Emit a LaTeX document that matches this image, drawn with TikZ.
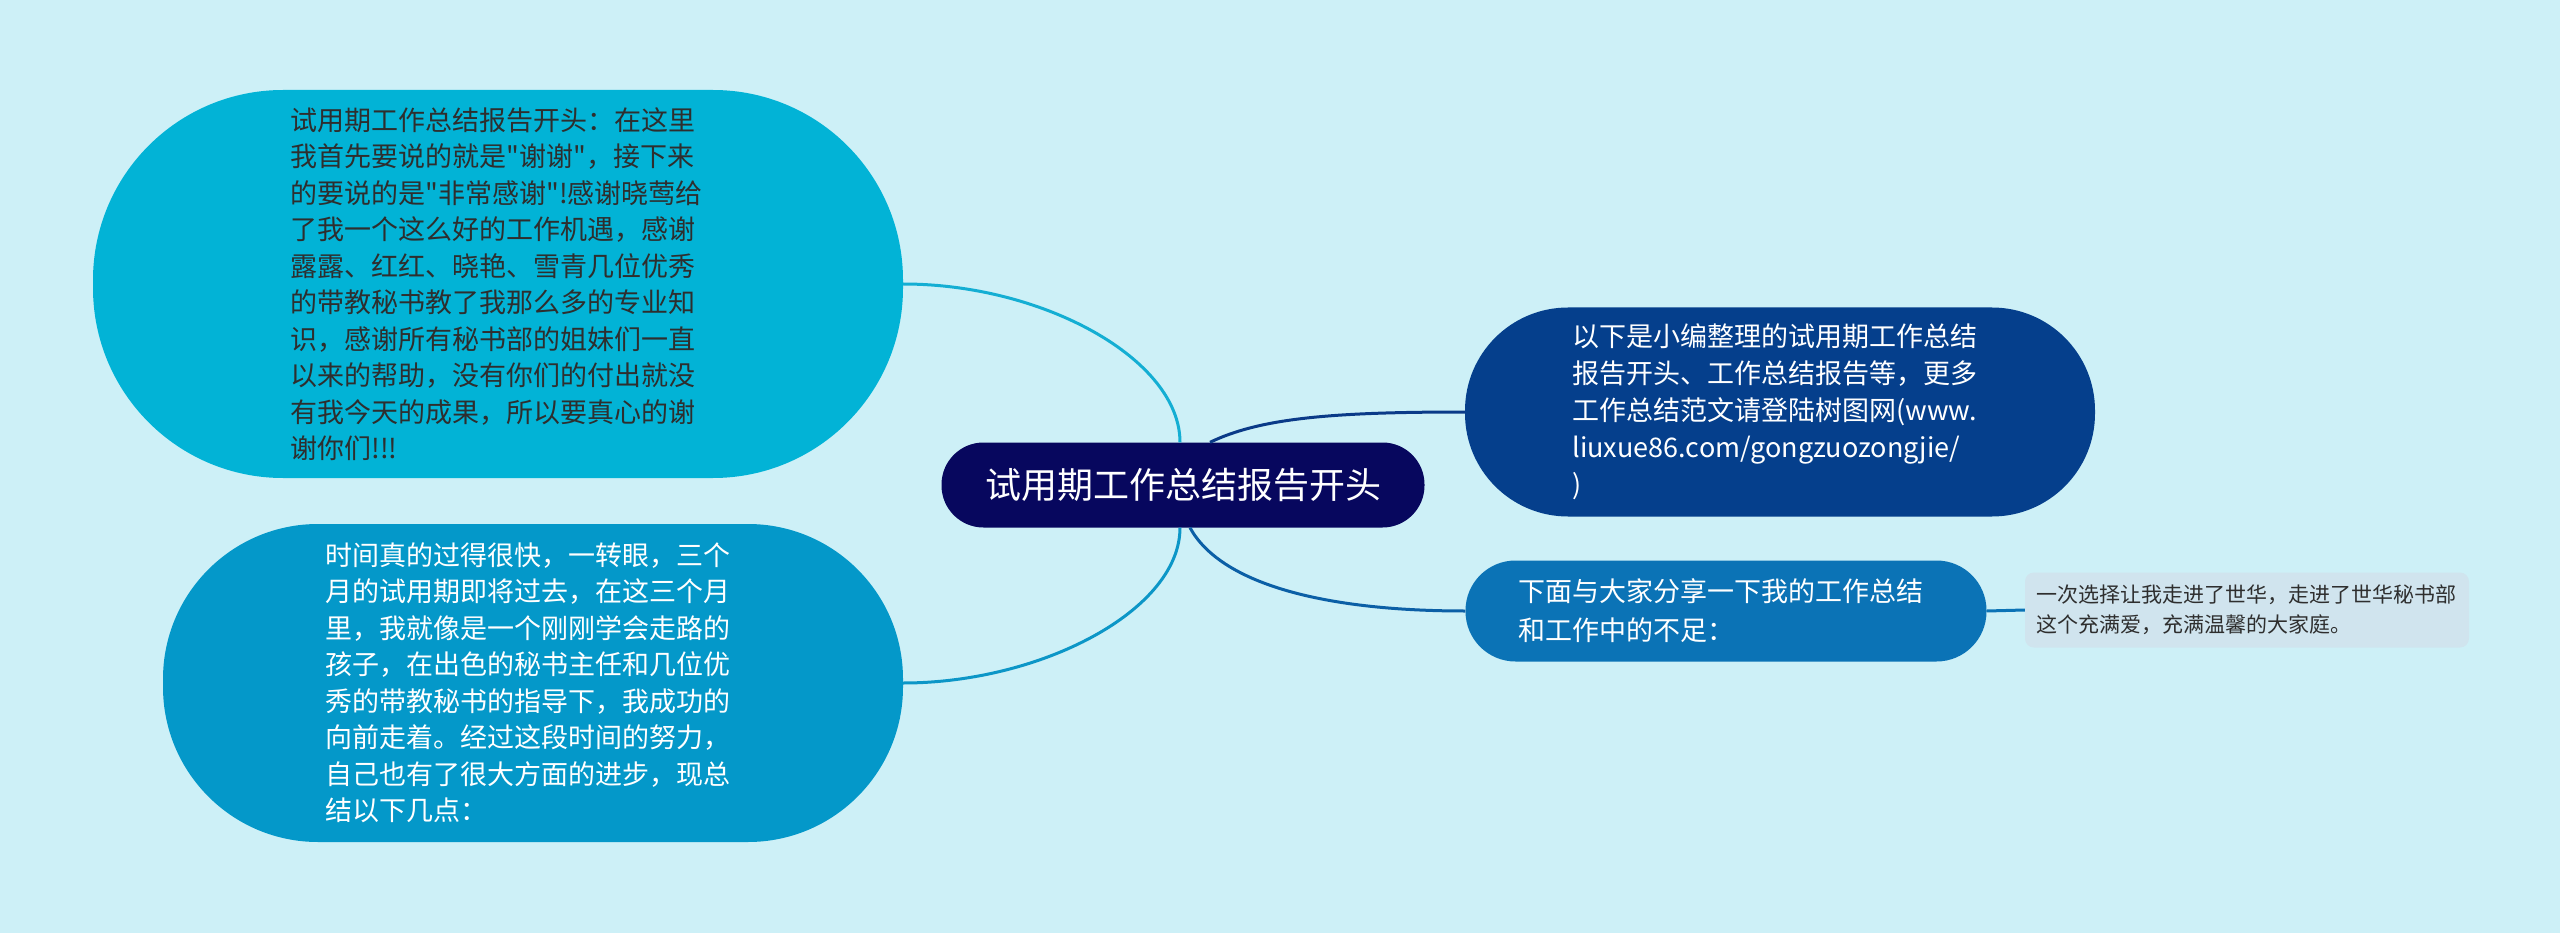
\documentclass[tikz,border=0pt]{standalone}
\usepackage{fontspec}
\setmainfont{Noto Sans CJK SC}[Ligatures=TeXOff]
\usetikzlibrary{calc}
\definecolor{bgc}{HTML}{CDF0F7}
\definecolor{cmain}{HTML}{07075E}
\definecolor{ctl}{HTML}{02B3D6}
\definecolor{cbl}{HTML}{0498C9}
\definecolor{ctr}{HTML}{053F8C}
\definecolor{cbr}{HTML}{0B73B6}
\definecolor{cleaf}{HTML}{D0E4EE}
\definecolor{ltl}{HTML}{14AED3}
\definecolor{lbl}{HTML}{0C96C7}
\definecolor{ltr}{HTML}{0A3A88}
\definecolor{lbr}{HTML}{0B5FA6}
\definecolor{darktext}{HTML}{2E2E2E}
\tikzset{
  bubble/.style={rectangle, inner sep=0pt, align=left, text width=415pt,
    font=\fontsize{27pt}{36.5pt}\selectfont},
  link/.style={line width=3pt}
}
\begin{document}
\begin{tikzpicture}[x=1pt,y=-1pt]
\fill[bgc] (0,0) rectangle (2560,933);
\useasboundingbox (0,0) rectangle (2560,933);

\node[rectangle, fill=cmain, text=white, rounded corners=42pt, minimum width=483pt, minimum height=85pt, inner sep=0pt, font=\fontsize{36pt}{40pt}\selectfont] (c) at (1183,485) {试用期工作总结报告开头};

\node[bubble, fill=ctl, text=darktext, rounded corners=190pt, minimum width=810pt, minimum height=388pt] (tl) at (498,284) {试用期工作总结报告开头：在这里\\
我首先要说的就是"谢谢"，接下来\\
的要说的是"非常感谢"!感谢晓莺给\\
了我一个这么好的工作机遇，感谢\\
露露、红红、晓艳、雪青几位优秀\\
的带教秘书教了我那么多的专业知\\
识，感谢所有秘书部的姐妹们一直\\
以来的帮助，没有你们的付出就没\\
有我今天的成果，所以要真心的谢\\
谢你们!!!};

\node[bubble, fill=cbl, text=white, rounded corners=155pt, minimum width=740pt, minimum height=318pt] (bl) at (533,683) {时间真的过得很快，一转眼，三个\\
月的试用期即将过去，在这三个月\\
里，我就像是一个刚刚学会走路的\\
孩子，在出色的秘书主任和几位优\\
秀的带教秘书的指导下，我成功的\\
向前走着。经过这段时间的努力，\\
自己也有了很大方面的进步，现总\\
结以下几点：};

\node[bubble, fill=ctr, text=white, rounded corners=103pt, minimum width=630pt, minimum height=209pt, font=\fontsize{27pt}{37pt}\selectfont] (tr) at (1780,412) {以下是小编整理的试用期工作总结\\
报告开头、工作总结报告等，更多\\
工作总结范文请登陆树图网(www.\\
liuxue86.com/gongzuozongjie/\\
)};

\node[bubble, fill=cbr, text=white, rounded corners=50pt, minimum width=521pt, minimum height=101pt, font=\fontsize{27pt}{39pt}\selectfont] (br) at (1726,611) {下面与大家分享一下我的工作总结\\
和工作中的不足：};

\node[rectangle, fill=cleaf, text=darktext, rounded corners=9pt, minimum width=444pt, minimum height=75pt, inner sep=0pt, align=left, text width=422pt, font=\fontsize{21pt}{30pt}\selectfont] (leaf) at (2247,610) {一次选择让我走进了世华，走进了世华秘书部\\
这个充满爱，充满温馨的大家庭。};

\draw[link, ltl] (tl.east) .. controls ($(tl.east)+(140,0)$) and ($([xshift=-3pt]c.north)+(0,-83)$) .. ([xshift=-3pt]c.north);
\draw[link, lbl] ([xshift=-3pt]c.south) .. controls ($([xshift=-3pt]c.south)+(0,83)$) and ($(bl.east)+(137,0)$) .. (bl.east);
\draw[link, ltr] ([xshift=27pt]c.north) .. controls ($([xshift=27pt]c.north)+(50,-24)$) and ($(tr.west)+(-135,0)$) .. (tr.west);
\draw[link, lbr] ([xshift=7pt]c.south) .. controls ($([xshift=7pt]c.south)+(30,55)$) and ($(br.west)+(-145,0)$) .. (br.west);
\draw[link, cbr] (br.east) -- (leaf.west);
\end{tikzpicture}
\end{document}
